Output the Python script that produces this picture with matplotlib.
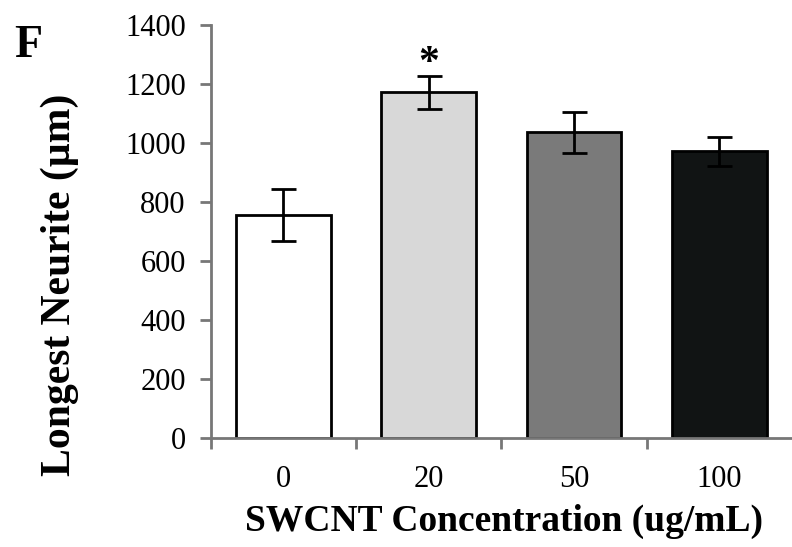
import matplotlib.pyplot as plt
from matplotlib.ticker import FixedLocator

plt.rcParams['font.family'] = ['Liberation Serif', 'DejaVu Serif']

concentrations = ['0', '20', '50', '100']
neurite_mean = [755, 1170, 1035, 970]
neurite_err = [87, 55, 70, 50]
bar_colors = ['#ffffff', '#d8d8d8', '#7a7a7a', '#111414']

fig = plt.figure(figsize=(7.92, 5.47), dpi=100)
ax = fig.add_axes([0.266, 0.2, 0.734, 0.755])

x = range(len(concentrations))
ax.bar(x, neurite_mean, width=0.65, color=bar_colors, edgecolor='black', linewidth=2,
       yerr=neurite_err, error_kw=dict(ecolor='black', elinewidth=2, capsize=9, capthick=2),
       zorder=2)

# significance marker over the 20 ug/mL bar
ax.text(1, neurite_mean[1] + neurite_err[1] + 40, '*', ha='center', va='center',
        fontsize=30, fontweight='bold')

ax.set_xlim(-0.5, 3.5)
ax.set_ylim(0, 1400)
ax.set_yticks(range(0, 1401, 200))
ax.set_xticks(list(x))
ax.set_xticklabels(concentrations)
ax.xaxis.set_minor_locator(FixedLocator([-0.5, 0.5, 1.5, 2.5]))
ax.tick_params(axis='x', which='major', length=0, pad=20, labelsize=22)
ax.tick_params(axis='x', which='minor', length=8, width=2, color='#777777', direction='out')
ax.tick_params(axis='y', length=8, width=2, color='#777777', pad=10, labelsize=22)

for side in ['top', 'right']:
    ax.spines[side].set_visible(False)
for side in ['left', 'bottom']:
    ax.spines[side].set_color('#777777')
    ax.spines[side].set_linewidth(2)

fig.text(0.636, 0.046, 'SWCNT Concentration (ug/mL)', ha='center', va='center',
         fontsize=27, fontweight='bold')
fig.text(0.076, 0.48, 'Longest Neurite (µm)', rotation=90, ha='center', va='center',
         fontsize=30, fontweight='bold')

fig.text(0.018, 0.955, 'F', fontsize=33, fontweight='bold', va='top')

fig.savefig('out.png', dpi=100)
